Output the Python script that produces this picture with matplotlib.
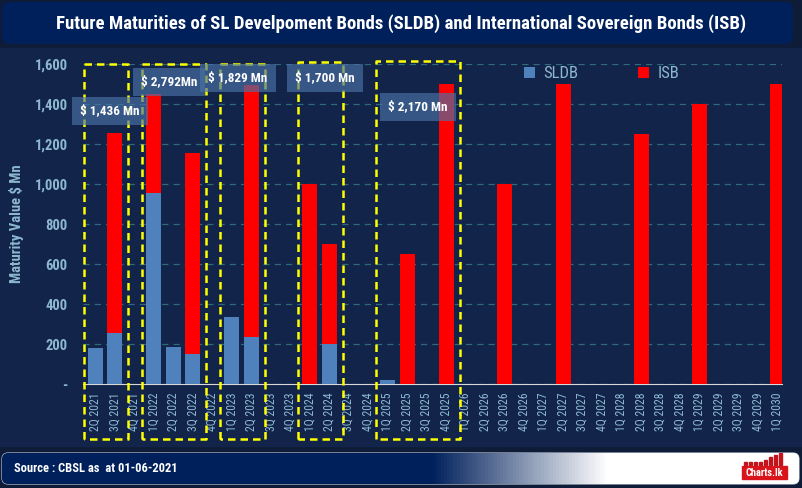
import matplotlib.pyplot as plt
import numpy as np
from matplotlib.patches import FancyBboxPatch, Rectangle
from matplotlib.lines import Line2D
from matplotlib import font_manager

names = sorted({f.name for f in font_manager.fontManager.ttflist})
cands = [n for n in ['Roboto Condensed', 'Liberation Sans Narrow', 'DejaVu Sans Condensed', 'Roboto'] if n in names]
plt.rcParams['font.family'] = cands + ['DejaVu Sans']

# data
quarters = ['2Q 2021', '3Q 2021', '4Q 2021',
            '1Q 2022', '2Q 2022', '3Q 2022', '4Q 2022',
            '1Q 2023', '2Q 2023', '3Q 2023', '4Q 2023',
            '1Q 2024', '2Q 2024', '3Q 2024', '4Q 2024',
            '1Q 2025', '2Q 2025', '3Q 2025', '4Q 2025',
            '1Q 2026', '2Q 2026', '3Q 2026', '4Q 2026',
            '1Q 2027', '2Q 2027', '3Q 2027', '4Q 2027',
            '1Q 2028', '2Q 2028', '3Q 2028', '4Q 2028',
            '1Q 2029', '2Q 2029', '3Q 2029', '4Q 2029',
            '1Q 2030']
sldb = [180, 256, 0, 955, 185, 152, 0, 335, 235, 0, 0, 0, 200, 0, 0, 20, 0, 0, 0,
        0, 0, 0, 0, 0, 0, 0, 0, 0, 0, 0, 0, 0, 0, 0, 0, 0]
isb = [0, 1000, 0, 495, 0, 1005, 0, 0, 1259, 0, 0, 1000, 500, 0, 0, 0, 650, 0, 1500,
       0, 0, 1000, 0, 0, 1500, 0, 0, 0, 1250, 0, 0, 1400, 0, 0, 0, 1500]

# highlighted groups: (first idx, last idx, label)
groups = [(0, 1, '$ 1,436 Mn'), (3, 5, '$ 2,792Mn'), (7, 8, '$ 1,829 Mn'),
          (11, 12, '$ 1,700 Mn'), (15, 18, '$ 2,170 Mn')]

panel = '#12244a'
light = '#8db8d0'

fig = plt.figure(figsize=(8.03, 4.88), dpi=100, facecolor=panel)

# background shapes in pixel coords
bg = fig.add_axes([0, 0, 1, 1], zorder=-5)
bg.set_xlim(0, 803)
bg.set_ylim(488, 0)
bg.axis('off')
bg.add_patch(Rectangle((0, 0), 803, 488, color='#0e1c38'))
bg.add_patch(Rectangle((0, 48), 803, 398, color=panel))
bg.add_patch(FancyBboxPatch((2, 2), 791, 42, boxstyle='round,pad=0,rounding_size=8',
                            fc='#00205c', ec='none'))
bg.text(401, 24, 'Future Maturities of SL Develpoment Bonds (SLDB) and International Sovereign Bonds (ISB)',
        color='white', fontsize=13.5, fontweight='bold', ha='center', va='center')
foot = FancyBboxPatch((2, 453), 797, 31, boxstyle='round,pad=0,rounding_size=6',
                      fc='none', ec='#c8d0e0', lw=0.8)
bg.add_patch(foot)
grad = np.ones((2, 256, 3))
t = np.clip((np.linspace(0, 1, 256) - 0.54) / 0.22, 0, 1)
c0 = np.array([0, 32, 92]) / 255
for k in range(3):
    grad[:, :, k] = c0[k] + (1 - c0[k]) * t
im = bg.imshow(grad, extent=(2, 799, 484, 453), aspect='auto', zorder=1)
im.set_clip_path(foot)
bg.text(14, 469, 'Source : CBSL as  at 01-06-2021', color='white', fontsize=9,
        fontweight='bold', ha='left', va='center', zorder=2)
# logo
bg.add_patch(Rectangle((742, 466), 45, 13, color='#d9141b', zorder=3))
bg.text(764, 472.5, 'Charts.lk', color='white', fontsize=7.5, fontweight='bold',
        ha='center', va='center', zorder=4)
for j, h in enumerate([3, 3, 3, 3, 5, 8, 10, 12]):
    bg.add_patch(Rectangle((744 + j * 5, 465 - h), 3.5, h, color='#c0141b', zorder=3))

# main chart
ax = fig.add_axes([83 / 803, 1 - 384 / 488, 699 / 803, 320 / 488])
ax.set_facecolor('none')
x = np.arange(len(quarters))
ax.bar(x, sldb, width=0.77, color='#4f81bd', label='SLDB', zorder=3)
ax.bar(x, isb, width=0.77, bottom=sldb, color='#ff0000', label='ISB', zorder=3)

ax.set_xlim(-0.62, 35.23)
ax.set_ylim(0, 1600)
ax.set_yticks(np.arange(0, 1601, 200))
ax.yaxis.set_major_formatter(plt.FuncFormatter(lambda v, p: '-' if v == 0 else f'{v:,.0f}'))
ax.set_xticks(x)
ax.set_xticklabels(quarters, rotation=90)
ax.tick_params(axis='both', length=0, colors=light, labelsize=8.5)
ax.tick_params(axis='x', pad=6)
ax.tick_params(axis='y', pad=11, labelsize=10.5)
for lbl in ax.get_yticklabels():
    lbl.set_fontweight('bold')
ax.grid(axis='y', color='#2d6b78', ls=(0, (5, 4)), lw=0.9, zorder=0)
for s in ['top', 'right', 'left']:
    ax.spines[s].set_visible(False)
ax.spines['bottom'].set_color('#d8d8d8')
ax.set_ylabel('Maturity Value $ Mn', color=light, fontsize=10.5, fontweight='bold')
ax.yaxis.set_label_coords(-0.084, 0.5)

# yellow dashed group boxes and totals
tops = [1600, 1600, 1600, 1610, 1615]
for (a, b, lab), top in zip(groups, tops):
    x0, x1 = a - 0.58, b + 0.7
    ax.add_line(Line2D([x0, x0, x1, x1, x0], [-275, top, top, -275, -275], color='#ffff00',
                       ls=(0, (3, 2)), lw=1.8, clip_on=False, zorder=5))
label_pos = [(0.77, 1365), (3.8, 1510), (7.33, 1530), (11.8, 1530), (16.56, 1385)]
for (a, b, lab), (lx, ly) in zip(groups, label_pos):
    ax.text(lx, ly, lab, color='white', fontsize=9.5, fontweight='bold', ha='center', va='center',
            zorder=6, bbox=dict(boxstyle='square,pad=0.6', fc='#4a72a6', ec='none', alpha=0.65))

leg = ax.legend(loc='upper center', bbox_to_anchor=(0.742, 1.04), ncol=2, frameon=False,
                handlelength=0.65, handleheight=0.65, handletextpad=0.5,
                columnspacing=3.6, fontsize=12)
for txt in leg.get_texts():
    txt.set_color(light)

fig.savefig('out.png', dpi=100, facecolor=fig.get_facecolor())
